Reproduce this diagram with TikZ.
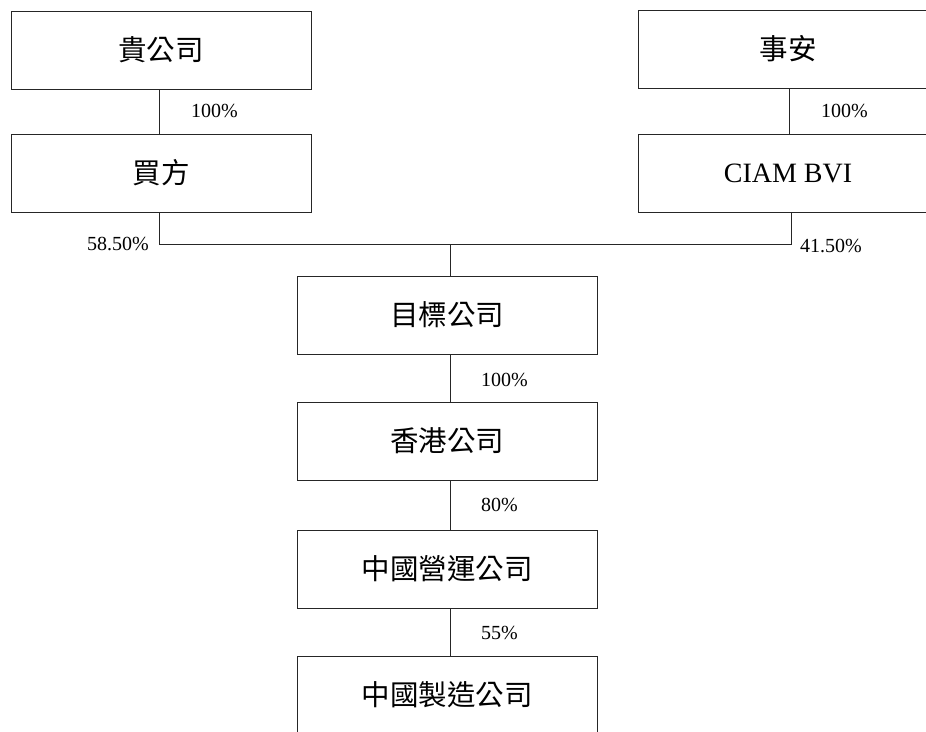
\documentclass[tikz,border=0pt]{standalone}
\usepackage{fontspec}
\setmainfont{Liberation Serif}
\newfontfamily\cjk{Noto Sans CJK TC}
\begin{document}
\begin{tikzpicture}[x=1pt,y=1pt,
  entity/.style={draw=black!85, line width=1pt, minimum width=300pt, minimum height=78pt, inner sep=0pt, font=\cjk\fontsize{28.5}{30}\selectfont},
  pct/.style={inner sep=0pt, font=\fontsize{20}{22}\selectfont},
  link/.style={draw=black!85, line width=1pt}]
\useasboundingbox (0,0) rectangle (926,-731);
\fill[white] (0,0) rectangle (926,-731);
\node[entity] (you) at (161,-50) {貴公司};
\node[entity] (shian) at (788,-49) {事安};
\node[entity] (buyer) at (161,-173) {買方};
\node[entity, font=\fontsize{28}{30}\selectfont] (ciam) at (788,-173) {CIAM BVI};
\node[entity] (tgt) at (447,-315) {目標公司};
\node[entity] (hk) at (447,-441) {香港公司};
\node[entity] (op) at (447,-569) {中國營運公司};
\node[entity] (mfg) at (447,-695) {中國製造公司};
\coordinate (l) at (159,-244);
\coordinate (r) at (791,-244);
\coordinate (j) at (450,-244);
\coordinate (tr) at (789,-244);
\draw[link] (you.south -| l) -- (buyer.north -| l);
\draw[link] (shian.south -| tr) -- (ciam.north -| tr);
\draw[link] (buyer.south -| l) -- (l) -- (r) -- (ciam.south -| r);
\draw[link] (j) -- (tgt.north -| j);
\draw[link] (tgt.south -| j) -- (hk.north -| j);
\draw[link] (hk.south -| j) -- (op.north -| j);
\draw[link] (op.south -| j) -- (mfg.north -| j);
\node[pct, anchor=west] (p1) at (191,-111) {100\%};
\node[pct, anchor=west] (p2) at (821,-111) {100\%};
\node[pct, anchor=east] (p3) at (149,-244) {58.50\%};
\node[pct, anchor=west] (p4) at (800,-246) {41.50\%};
\node[pct, anchor=west] (p5) at (481,-380) {100\%};
\node[pct, anchor=west] (p6) at (481,-505) {80\%};
\node[pct, anchor=west] (p7) at (481,-633) {55\%};
\end{tikzpicture}
\end{document}
